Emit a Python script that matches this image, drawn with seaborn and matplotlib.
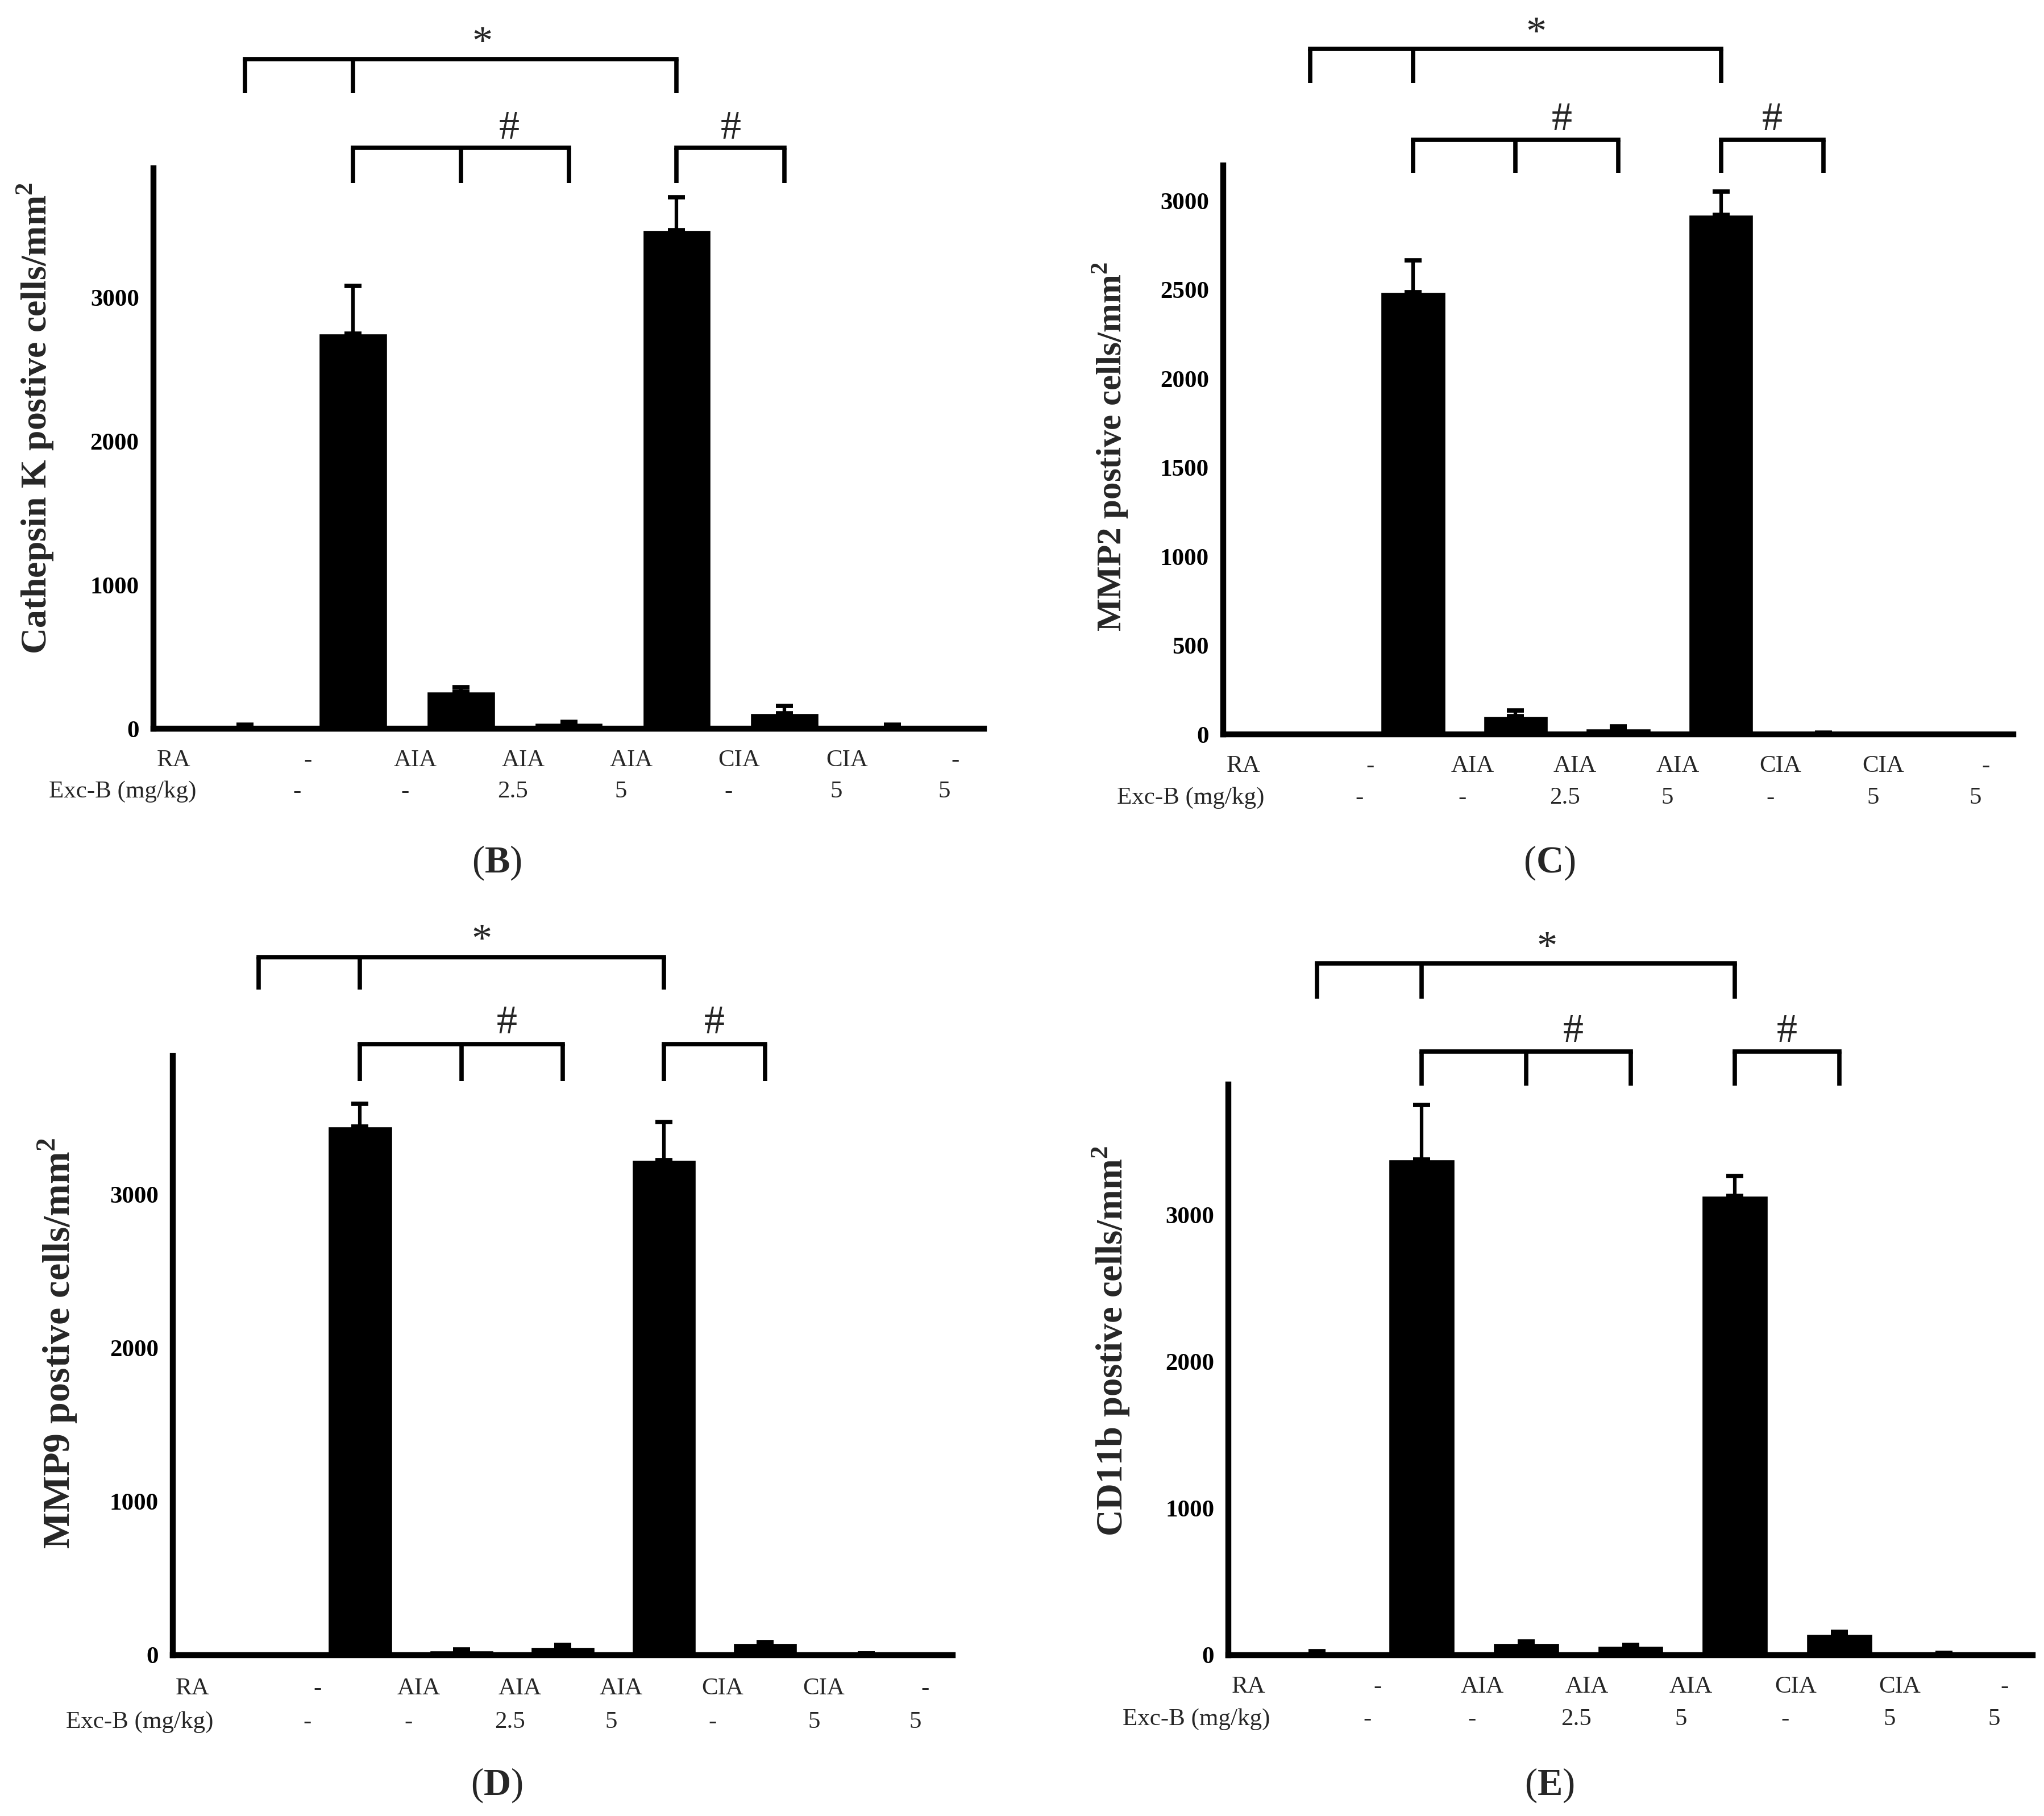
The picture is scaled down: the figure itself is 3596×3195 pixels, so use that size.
import numpy as np
import pandas as pd
import seaborn as sns
import matplotlib
matplotlib.use("Agg")
import matplotlib.pyplot as plt
import matplotlib.transforms as mtransforms

sns.set_style("white")
plt.rcParams['font.family'] = ['Liberation Serif', 'DejaVu Serif']
plt.rcParams['mathtext.fontset'] = 'custom'
plt.rcParams['mathtext.rm'] = 'Liberation Serif'
plt.rcParams['mathtext.bf'] = 'Liberation Serif:bold'

# ---------------- data ----------------
groups = ['normal', 'AIA', 'AIA+2.5', 'AIA+5', 'CIA', 'CIA+5', 'Exc-B 5']
ra_labels = ['-', 'AIA', 'AIA', 'AIA', 'CIA', 'CIA', '-']
excb_labels = ['-', '-', '2.5', '5', '-', '5', '5']

cathepsin_k = [20, 2750, 258, 40, 3470, 107, 22]
cathepsin_k_err = [8, 330, 32, 10, 228, 50, 8]

mmp2 = [4, 2488, 103, 32, 2922, 8, 4]
mmp2_err = [0, 177, 30, 12, 131, 3, 0]

mmp9 = [5, 3440, 30, 50, 3222, 76, 10]
mmp9_err = [0, 150, 5, 15, 249, 10, 0]

cd11b = [22, 3377, 81, 61, 3129, 145, 12]
cd11b_err = [5, 375, 13, 10, 139, 12, 3]

# layout per panel: axes rect, label size/pos, bracket heights (axes fraction)
panels = [
    dict(name='B', vals=cathepsin_k, err=cathepsin_k_err, ylabel='Cathepsin K postive cells/mm',
         ymax=3900, yticks=[0, 1000, 2000, 3000], rect=[0.0750, 0.5987, 0.4065, 0.3087],
         lab_size=46, lab_xy=(-0.142, 0.554), tag_xy=(0.243, 0.525),
         br=(1.195, 1.134, 1.036, 0.973)),
    dict(name='C', vals=mmp2, err=mmp2_err, ylabel='MMP2 postive cells/mm',
         ymax=3200, yticks=[0, 500, 1000, 1500, 2000, 2500, 3000], rect=[0.5984, 0.5956, 0.3866, 0.3134],
         lab_size=44, lab_xy=(-0.142, 0.505), tag_xy=(0.758, 0.525),
         br=(1.204, 1.145, 1.045, 0.987)),
    dict(name='D', vals=mmp9, err=mmp9_err, ylabel='MMP9 postive cells/mm',
         ymax=3900, yticks=[0, 1000, 2000, 3000], rect=[0.0845, 0.0886, 0.3815, 0.3299],
         lab_size=49, lab_xy=(-0.147, 0.52), tag_xy=(0.243, 0.017),
         br=(1.165, 1.111, 1.020, 0.958)),
    dict(name='E', vals=cd11b, err=cd11b_err, ylabel='CD11b postive cells/mm',
         ymax=3890, yticks=[0, 1000, 2000, 3000], rect=[0.601, 0.0886, 0.3934, 0.3142],
         lab_size=46.5, lab_xy=(-0.146, 0.55), tag_xy=(0.758, 0.017),
         br=(1.212, 1.150, 1.058, 0.998)),
]

LW = 5.5


def bracket(ax, xs, y_top, y_bot, mark, mark_x, mark_y):
    tr = mtransforms.blended_transform_factory(ax.transData, ax.transAxes)
    ax.plot([xs[0], xs[-1]], [y_top, y_top], color='black', lw=LW, transform=tr,
            clip_on=False, solid_capstyle='projecting')
    for x in xs:
        ax.plot([x, x], [y_top, y_bot], color='black', lw=LW, transform=tr,
                clip_on=False, solid_capstyle='butt')
    ax.text(mark_x, mark_y, mark, transform=tr, ha='center', va='center', fontsize=52)


fig = plt.figure(figsize=(35.96, 31.95), dpi=100)

for p in panels:
    ax = fig.add_axes(p['rect'])
    df = pd.DataFrame({'group': groups, 'value': p['vals']})
    sns.barplot(data=df, x='group', y='value', order=groups, color='black',
                saturation=1, width=0.63, errorbar=None, ax=ax)
    xpos = np.arange(len(groups))
    ax.errorbar(xpos, p['vals'], yerr=[np.zeros(len(groups)), p['err']], fmt='none',
                ecolor='black', elinewidth=4.5, capsize=11, capthick=5.5)

    ax.set_xlim(-0.85, len(groups) - 0.15)
    ax.set_ylim(0, p['ymax'])
    ax.set_yticks(p['yticks'])
    ax.set_xticks(xpos)
    ax.set_xticklabels([])
    ax.set_xlabel('')
    ax.tick_params(axis='both', direction='out', length=8, width=7, colors='black')
    ax.tick_params(axis='y', labelsize=31, pad=10)
    for lbl in ax.get_yticklabels():
        lbl.set_fontweight('bold')
    for side in ['top', 'right']:
        ax.spines[side].set_visible(False)
    for side in ['left', 'bottom']:
        ax.spines[side].set_linewidth(7.5)
        ax.spines[side].set_color('black')

    ax.set_ylabel(p['ylabel'] + r'$^{\mathbf{2}}$', fontsize=p['lab_size'], fontweight='bold')
    ax.yaxis.set_label_coords(*p['lab_xy'])
    ax.yaxis.label.set_verticalalignment('center')

    # two-row treatment table under the axis
    tr = mtransforms.blended_transform_factory(ax.transData, ax.transAxes)
    ax.text(-0.82, -0.056, 'RA', transform=tr, ha='left', va='center', fontsize=31)
    ax.text(-0.45, -0.112, 'Exc-B (mg/kg)', transform=tr, ha='right', va='center', fontsize=31)
    for i, (ra, ex) in enumerate(zip(ra_labels, excb_labels)):
        ax.text(i + 0.58, -0.056, ra, transform=tr, ha='center', va='center', fontsize=31)
        ax.text(i + 0.48, -0.112, ex, transform=tr, ha='center', va='center', fontsize=31)

    # significance brackets
    s_top, s_bot, h_top, h_bot = p['br']
    bracket(ax, [0, 1, 4], s_top, s_bot, '*', 2.2, s_top + 0.026)
    bracket(ax, [1, 2, 3], h_top, h_bot, '#', 2.45, h_top + 0.034)
    bracket(ax, [4, 5], h_top, h_bot, '#', 4.5, h_top + 0.034)

    fig.text(p['tag_xy'][0], p['tag_xy'][1], '($\\mathbf{' + p['name'] + '}$)',
             ha='center', va='center', fontsize=48)

fig.savefig('out.png', dpi=100, facecolor='white')
